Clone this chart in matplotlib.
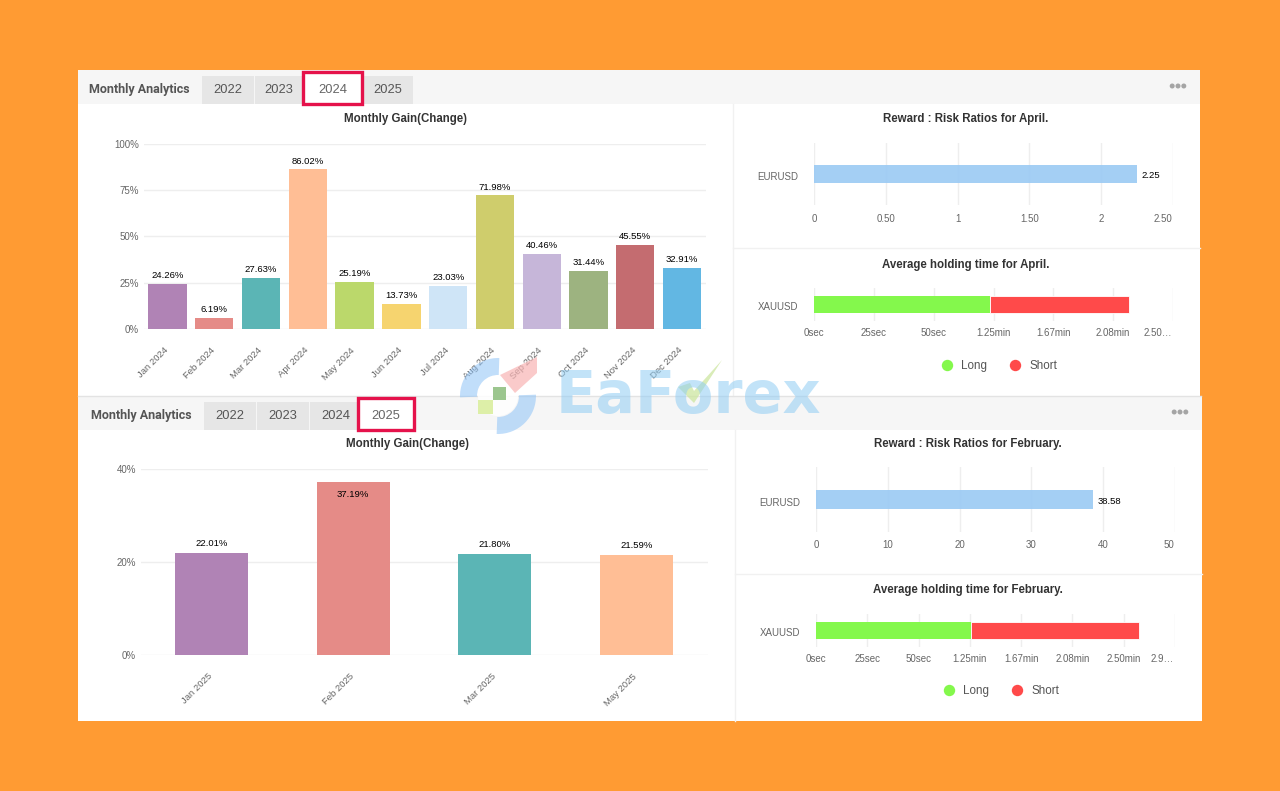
import matplotlib
matplotlib.use('Agg')
import matplotlib.pyplot as plt
from matplotlib.patches import Rectangle, Polygon, Wedge, Circle
from matplotlib.transforms import ScaledTranslation

plt.rcParams['font.family'] = ['Liberation Sans', 'DejaVu Sans']

months_2024 = ['Jan 2024', 'Feb 2024', 'Mar 2024', 'Apr 2024', 'May 2024', 'Jun 2024',
               'Jul 2024', 'Aug 2024', 'Sep 2024', 'Oct 2024', 'Nov 2024', 'Dec 2024']
gain_2024 = [24.26, 6.19, 27.63, 86.02, 25.19, 13.73, 23.03, 71.98, 40.46, 31.44, 45.55, 32.91]
months_2025 = ['Jan 2025', 'Feb 2025', 'Mar 2025', 'May 2025']
gain_2025 = [22.01, 37.19, 21.80, 21.59]
bar_colors = ['#B083B5', '#E58B87', '#5BB5B5', '#FFBE95', '#BBD86B', '#F6D46F',
              '#CFE5F7', '#CFCD6C', '#C6B6D9', '#9DB380', '#C46C70', '#62B7E3']
colors_2025 = ['#B083B5', '#E58B87', '#5BB5B5', '#FFBE95']

rr_apr = 2.25
rr_feb = 38.58
hold_apr = [73.4, 58.2]
hold_feb = [75.4, 81.9]
time_ticks_apr = ['0sec', '25sec', '50sec', '1.25min', '1.67min', '2.08min', '2.50…']
time_ticks_feb = ['0sec', '25sec', '50sec', '1.25min', '1.67min', '2.08min', '2.50min', '2.9…']
years = ['2022', '2023', '2024', '2025']

W, H = 1280, 791
GRID = '#EEEEEE'
TICK = '#666666'
fig = plt.figure(figsize=(W / 100, H / 100), dpi=100, facecolor='#FF9B33')


def px_axes(x0, y0, x1, y1):
    # axes placed by picture pixels, y counted from the top
    ax = fig.add_axes([x0 / W, 1 - y1 / H, (x1 - x0) / W, (y1 - y0) / H])
    ax.patch.set_alpha(0)
    for s in ax.spines.values():
        s.set_visible(False)
    return ax


def shift(label, dx=0, dy=0):
    label.set_transform(label.get_transform() + ScaledTranslation(dx / 100, dy / 100, fig.dpi_scale_trans))


bg = px_axes(0, 0, W, H)
bg.set_xlim(0, W)
bg.set_ylim(H, 0)
bg.axis('off')


def panel(dx, top, bottom, right, active, edges):
    bg.add_patch(Rectangle((78, top), right - 78, bottom - top, fc='white', ec='none'))
    bg.add_patch(Rectangle((78, top), right - 78, 34, fc='#F6F6F6', ec='none'))
    bg.plot([733 + dx, 733 + dx], [top + 34, bottom], color='#F1F1F1', lw=1)
    bg.plot([733 + dx, right], [top + 178, top + 178], color='#F1F1F1', lw=1)
    bg.text(89 + dx, top + 20, 'Monthly Analytics', fontsize=9, fontweight='bold', color='#555555',
            va='center', family='Roboto')
    for i, (a, b) in enumerate(edges):
        if i != active:
            bg.add_patch(Rectangle((a, top + 6), b - a, 28, fc='#E6E6E6', ec='none'))
    for i, (yr, (a, b)) in enumerate(zip(years, edges)):
        if i == active:
            # active tab sits in a red frame
            bg.add_patch(Rectangle((a, top + 1.5), b - a, 32, fc='white', ec='#E5124B', lw=2.4, zorder=5))
            bg.text((a + b) / 2, top + 20, yr, fontsize=9.3, color='#666666', ha='center', va='center', zorder=6)
        else:
            bg.text((a + b) / 2, top + 20, yr, fontsize=9.3, color='#555555', ha='center', va='center')
    for k in [-5.8, 0, 5.8]:
        bg.add_patch(Circle((1178 + dx + k, top + 16), 2.5, fc='#A5A5A5', ec='none'))


panel(0, 70, 396, 1200, 2, [(202, 254), (255, 303), (303, 362), (363, 413)])
panel(2, 396, 721, 1202, 3, [(204, 256), (257, 309), (310, 361), (358, 414)])
bg.plot([78, 1201], [395.5, 395.5], color='#E3E3E3', lw=1)


def gain_chart(x0, x1, y0, y1, ymax, step, labels, values, colors, width, title_x, title_y, above, inside=None):
    ax = px_axes(x0, y0, x1, y1)
    ax.bar(range(len(values)), values, width=width, color=colors, zorder=2)
    ax.set_xlim(-0.5, len(values) - 0.5)
    ax.set_ylim(0, ymax)
    ax.set_yticks(range(0, ymax + 1, step))
    ax.set_yticklabels(['%d%%' % v for v in range(0, ymax + 1, step)], fontsize=7, color=TICK)
    ax.set_xticks(range(len(values)))
    ax.set_xticklabels(labels, fontsize=6.8, color=TICK, rotation=45, ha='right', rotation_mode='anchor')
    ax.tick_params(axis='both', length=0)
    ax.tick_params(axis='x', pad=12)
    ax.tick_params(axis='y', pad=3.5)
    ax.grid(axis='y', color=GRID, lw=1, zorder=0)
    ax.set_axisbelow(True)
    for lab in ax.get_xticklabels():
        shift(lab, dx=-4)
    for i, v in enumerate(values):
        off = -9 if i == inside else above
        ax.annotate('%.2f%%' % v, (i, v), xytext=(0, off), textcoords='offset points',
                    ha='center', va='center', fontsize=6.8, color='black', zorder=4)
    bg.text(title_x, title_y, 'Monthly Gain(Change)', fontsize=8.3, fontweight='bold',
            color='#333333', ha='center', va='center')
    return ax


gain_chart(144, 705.5, 143.5, 329, 100, 25, months_2024, gain_2024, bar_colors, 0.82, 405, 119, 6)
gain_chart(140.7, 707.5, 469, 655, 40, 20, months_2025, gain_2025, colors_2025, 0.515, 407, 444, 6.8, inside=1)


def hbar_setup(ax, xmax, ticks, labels, name, pad):
    ax.set_xlim(0, xmax)
    ax.set_ylim(-0.5, 0.5)
    ax.set_yticks([0])
    ax.set_yticklabels([name], fontsize=7, color=TICK)
    ax.set_xticks(ticks)
    ax.set_xticklabels(labels, fontsize=7, color=TICK)
    ax.tick_params(axis='both', length=0)
    ax.tick_params(axis='y', pad=11.5)
    ax.tick_params(axis='x', pad=pad)
    ax.grid(axis='x', color=GRID, lw=1, zorder=0)
    ax.set_axisbelow(True)
    last = ax.get_xticklabels()[-1]
    last.set_ha('right')
    shift(last, dx=-1)
    shift(ax.get_yticklabels()[0], dy=-2)


def ratio_chart(x0, x1, y0, y1, value, xmax, ticks, labels, title, title_y, pad):
    ax = px_axes(x0, y0, x1, y1)
    ax.barh([0], [value], height=0.29, color='#9CCBF4', alpha=0.92, zorder=2)
    hbar_setup(ax, xmax, ticks, labels, 'EURUSD', pad)
    ax.annotate('%.2f' % value, (value, 0), xytext=(3.5, -1.4), textcoords='offset points',
                ha='left', va='center', fontsize=6.8, color='black')
    bg.text(x0 + 151.5, title_y, title, fontsize=8.3, fontweight='bold', color='#333333',
            ha='center', va='center')


def hold_chart(x0, x1, y0, y1, hold, xmax, labels, title, title_y, legend_y):
    ax = px_axes(x0, y0, x1, y1)
    ax.barh([0], [hold[0]], height=0.5, color='#84F84C', zorder=2)
    ax.barh([0], [hold[1]], left=[hold[0]], height=0.5, color='#FF4A4A', ec='white', lw=0.6, zorder=2)
    hbar_setup(ax, xmax, [25 * i for i in range(len(labels))], labels, 'XAUUSD', 5)
    dx = x0 - 814
    bg.text(x0 + 151.5, title_y, title, fontsize=8.3, fontweight='bold', color='#333333',
            ha='center', va='center')
    bg.plot([947 + dx], [legend_y], 'o', ms=8.2, color='#84F84C', mec='none')
    bg.plot([1015 + dx], [legend_y], 'o', ms=8.2, color='#FF4A4A', mec='none')
    bg.text(961 + dx, legend_y + 1, 'Long', fontsize=8.4, color='#555555', va='center')
    bg.text(1029 + dx, legend_y + 1, 'Short', fontsize=8.4, color='#555555', va='center')


ratio_chart(814, 1173, 143, 205, rr_apr, 2.5, [0, 0.5, 1, 1.5, 2, 2.5],
            ['0', '0.50', '1', '1.50', '2', '2.50'], 'Reward : Risk Ratios for April.', 119, 6.5)
hold_chart(814, 1173, 288, 321, hold_apr, 150, time_ticks_apr, 'Average holding time for April.', 265, 365)
ratio_chart(816, 1175, 467, 532, rr_feb, 50, [0, 10, 20, 30, 40, 50],
            ['0', '10', '20', '30', '40', '50'], 'Reward : Risk Ratios for February.', 444, 5.8)
hold_chart(816, 1175, 614, 647, hold_feb, 175, time_ticks_feb, 'Average holding time for February.', 590, 690)

# watermark over everything
wm = px_axes(0, 0, W, H)
wm.set_xlim(0, W)
wm.set_ylim(H, 0)
wm.axis('off')
wm.add_patch(Circle((498, 396), 20, fc='white', ec='none', alpha=0.85))
wm.add_patch(Wedge((498, 396), 38, 178, 272, width=17, fc='#8FC3F7', ec='none', alpha=0.55))
wm.add_patch(Wedge((498, 396), 38, -2, 92, width=17, fc='#8FC3F7', ec='none', alpha=0.55))
wm.add_patch(Polygon([(500, 375), (537, 357), (537, 373), (515, 393)], fc='#F8B4B4', ec='none', alpha=0.7))
wm.add_patch(Rectangle((493, 387), 13, 13, fc='#9CC68F', ec='none'))
wm.add_patch(Rectangle((478, 400), 15, 14, fc='#DDEFA8', ec='none'))
wm.text(556, 397, 'EaForex', fontsize=42.5, fontweight='bold', family='DejaVu Sans', color='#90CDF4',
        alpha=0.55, va='center', ha='left')
wm.add_patch(Polygon([(678, 387), (690, 383), (694, 391), (722, 360), (694, 403)], fc='#CDE6A0', ec='none', alpha=0.75))

fig.savefig('out.png', dpi=100, facecolor=fig.get_facecolor())
